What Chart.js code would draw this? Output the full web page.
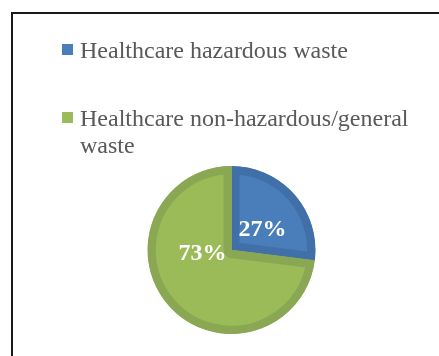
<!DOCTYPE html>
<html>
<head>
<meta charset="utf-8">
<script src="https://cdn.jsdelivr.net/npm/chart.js@4.4.0/dist/chart.umd.min.js"></script>
<style>
  html, body { margin: 0; padding: 0; background: #fff; }
  #wrap { width: 439px; height: 356px; }
</style>
</head>
<body>
<div id="wrap"><canvas id="pie-chart" width="439" height="356"></canvas></div>
<script>
// data
const wasteTypes = ["Healthcare hazardous waste", "Healthcare non-hazardous/general waste"];
const wasteShares = [27, 73];
const sliceColors = ["#4A7EBB", "#9BBB59"];
const sliceEdges = ["#4170A9", "#8AA853"];

// frame round the chart (only top and left edges show in the picture)
const framePlugin = {
  id: 'frame',
  beforeDraw(chart) {
    const ctx = chart.ctx;
    ctx.save();
    ctx.fillStyle = '#fff';
    ctx.fillRect(0, 0, chart.width, chart.height);
    ctx.strokeStyle = '#1a1a1a';
    ctx.lineWidth = 2;
    ctx.beginPath();
    ctx.moveTo(12, chart.height + 2);
    ctx.lineTo(12, 13);
    ctx.lineTo(chart.width + 2, 13);
    ctx.stroke();
    ctx.restore();
  }
};

// legend stacked vertically, long entries wrap
const sideLegend = {
  id: 'sideLegend',
  afterDraw(chart, args, opts) {
    const ctx = chart.ctx;
    const ds = chart.data.datasets[0];
    ctx.save();
    ctx.font = '24px "Liberation Serif", "Times New Roman", serif';
    ctx.textBaseline = 'alphabetic';
    let y = opts.top;
    chart.data.labels.forEach((label, i) => {
      ctx.fillStyle = ds.backgroundColor[i];
      ctx.fillRect(opts.left, y - 14, 11, 11);
      // word wrap
      const words = label.split(' ');
      const lines = [];
      let line = '';
      words.forEach(w => {
        const test = line ? line + ' ' + w : w;
        if (ctx.measureText(test).width > opts.maxWidth && line) {
          lines.push(line);
          line = w;
        } else {
          line = test;
        }
      });
      lines.push(line);
      ctx.fillStyle = '#595959';
      lines.forEach((l, k) => ctx.fillText(l, opts.left + 18, y + k * 27));
      y += opts.itemGap;
    });
    ctx.restore();
  }
};

// percentage labels inside the slices
const sliceLabels = {
  id: 'sliceLabels',
  afterDatasetsDraw(chart, args, opts) {
    const ctx = chart.ctx;
    const meta = chart.getDatasetMeta(0);
    const data = chart.data.datasets[0].data;
    const total = data.reduce((a, b) => a + b, 0);
    ctx.save();
    ctx.font = 'bold 24px "Liberation Serif", "Times New Roman", serif';
    ctx.fillStyle = '#ffffff';
    ctx.textAlign = 'center';
    ctx.textBaseline = 'middle';
    meta.data.forEach((arc, i) => {
      const r = arc.outerRadius;
      const off = opts.offsets[i];
      const txt = Math.round(data[i] / total * 100) + '%';
      ctx.fillText(txt, arc.x + off[0] * r, arc.y + off[1] * r);
    });
    ctx.restore();
  }
};

new Chart(document.getElementById('pie-chart'), {
  type: 'pie',
  data: {
    labels: wasteTypes,
    datasets: [{
      data: wasteShares,
      backgroundColor: sliceColors,
      borderColor: sliceEdges,
      borderWidth: 8,
      borderAlign: 'inner',
      radius: 84,
      hoverOffset: 0
    }]
  },
  options: {
    responsive: false,
    animation: false,
    events: [],
    layout: { padding: { left: 147.5, right: 123.5, top: 166, bottom: 22 } },
    plugins: {
      legend: { display: false },
      tooltip: { enabled: false },
      sideLegend: { left: 62, top: 58, itemGap: 68, maxWidth: 340 },
      sliceLabels: { offsets: [[0.37, -0.24], [-0.345, 0.05]] }
    }
  },
  plugins: [framePlugin, sideLegend, sliceLabels]
});
</script>
</body>
</html>
